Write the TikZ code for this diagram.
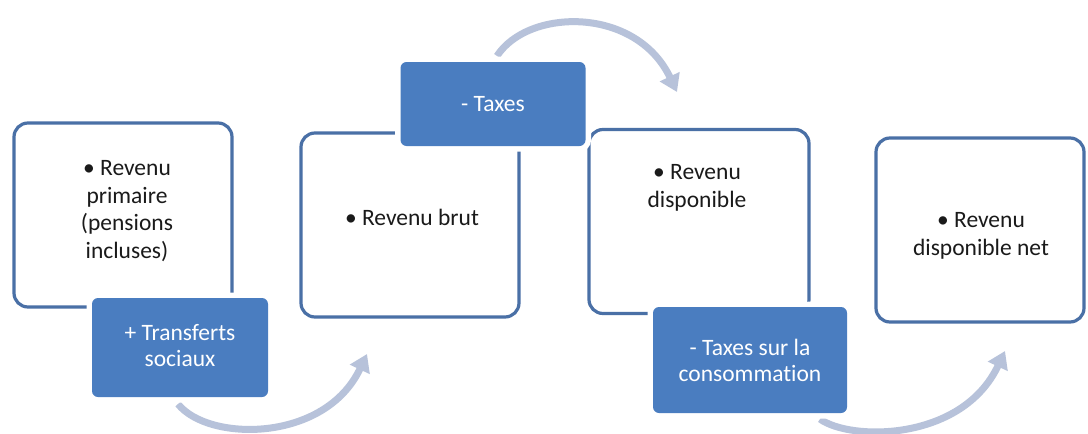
\documentclass[tikz,border=0pt]{standalone}
\usepackage{fontspec}
\setmainfont{Carlito}[Ligatures=NoCommon]
\usetikzlibrary{arrows.meta}
\definecolor{frameblue}{HTML}{4A70A6}
\definecolor{fillblue}{HTML}{4A7DC0}
\definecolor{arcgrey}{HTML}{B7C2DA}
\definecolor{txt}{HTML}{1A1A1A}
\tikzset{
  stagebox/.style={draw=frameblue, line width=3.2pt, rounded corners=14pt,
    fill=white, minimum width=#1, minimum height=184pt, inner sep=0pt},
  stepbox/.style={fill=fillblue, rounded corners=6pt, inner sep=0pt,
    preaction={draw=white, line width=11pt}},
  stagetext/.style={text=txt, font=\fontsize{23.5}{27.5}\selectfont, align=center},
  steptext/.style={text=white, font=\fontsize{23.5}{26}\selectfont, align=center},
  flowarc/.style={draw=arcgrey, line width=7pt,
    -{Triangle[length=17pt, width=21pt]}}
}
\begin{document}
\begin{tikzpicture}[x=1pt, y=-1pt]
  \useasboundingbox (0,0) rectangle (1088,434);
  \fill[white] (0,0) rectangle (1088,434);

  % curved arrows (behind the boxes)
  \coordinate (a1s) at (178,404);
  \coordinate (a1e) at (367,354);
  \coordinate (a2s) at (497,56);
  \coordinate (a2e) at (677,92);
  \coordinate (a3s) at (820,419);
  \coordinate (a3e) at (1005,351);
  \draw[flowarc] (a1s) .. controls (208,442) and (325,443) .. (a1e);
  \draw[flowarc] (a2s) .. controls (528,8) and (636,6) .. (a2e);
  \draw[flowarc] (a3s) .. controls (850,441) and (962,442) .. (a3e);

  % income stages
  \node[stagebox=218pt] (s1) at (123,215) {};
  \node[stagebox=218pt] (s2) at (410,225) {};
  \node[stagebox=220pt] (s3) at (699,221.5) {};
  \node[stagebox=208pt] (s4) at (980,230) {};

  \node[stagetext] (t1) at (127,211) {• Revenu\\primaire\\(pensions\\incluses)};
  \node[stagetext] (t2) at (412,217) {• Revenu brut};
  \node[stagetext] (t3) at (697,188) {• Revenu\\disponible};
  \node[stagetext] (t4) at (981,236) {• Revenu\\disponible net};

  % transfers and taxes between stages
  \node[stepbox, minimum width=176pt, minimum height=99pt] (b1) at (180,347.5) {};
  \node[stepbox, minimum width=185pt, minimum height=84pt] (b2) at (493,104) {};
  \node[stepbox, minimum width=194pt, minimum height=106pt] (b3) at (750,360) {};

  \node[steptext] (u1) at ([yshift=2pt]b1) {+ Transferts\\sociaux};
  \node[steptext] (u2) at (b2) {- Taxes};
  \node[steptext] (u3) at (b3) {- Taxes sur la\\consommation};
\end{tikzpicture}
\end{document}
